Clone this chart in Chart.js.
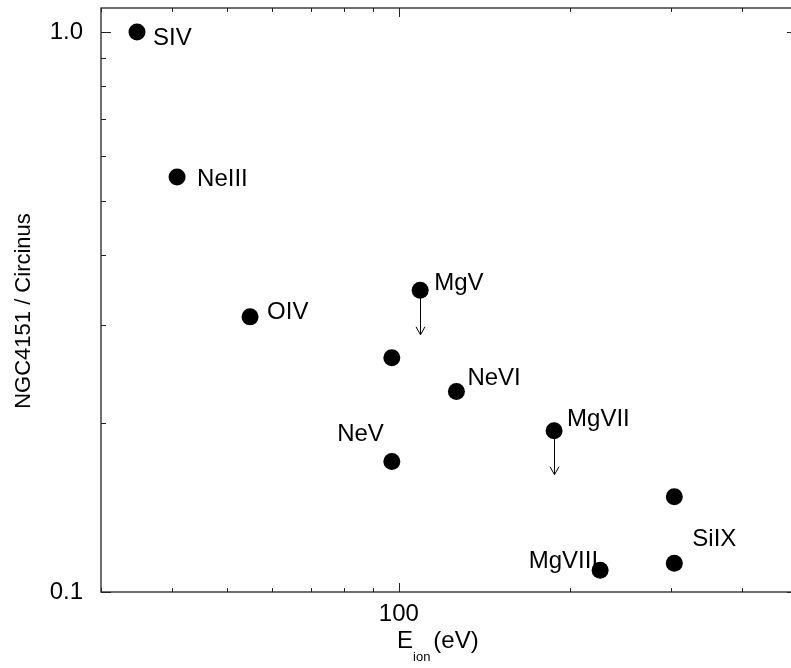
<!DOCTYPE html>
<html><head><meta charset="utf-8">
<script src="https://cdn.jsdelivr.net/npm/chart.js@4"></script>
<style>
html,body{margin:0;padding:0;background:#fff;overflow:hidden;width:791px;height:668px}
#wrap{position:absolute;left:0;top:0;width:800px;height:668px}
</style>
</head><body><div id="wrap"><canvas id="c" width="800" height="668"></canvas></div>
<script>
// ---- data ----
const ions        = ['SIV','NeIII','OIV','MgV','','NeVI','NeV','MgVII','','SiIX','MgVIII'];
const ionEnergy   = [34.7, 40.8, 54.8, 109.0, 97.2, 126.2, 97.2, 187.3, 304.5, 304.5, 225.6];
const fluxRatio   = [1.0, 0.551, 0.310, 0.346, 0.262, 0.228, 0.171, 0.194, 0.148, 0.1125, 0.1094];
const upperLimitTo= [null, null, null, 0.288, null, null, null, 0.162, null, null, null];
const xTickValues = [100];
const xTickLabels = ['100'];
const yTickValues = [0.1, 1.0];
const yTickLabels = ['0.1', '1.0'];
const xMinorTicks = [30, 40, 50, 60, 70, 80, 90, 200, 300, 400];
const yMinorTicks = [0.2, 0.3, 0.4, 0.5, 0.6, 0.7, 0.8, 0.9];
const yTitle = 'NGC4151 / Circinus';

// ---- label placement (pixel offsets from point, separate from data) ----
const labelPlacement = [
  [16, 13, 'left'], [20, 9, 'left'], [17, 2, 'left'], [14, 0, 'left'], null,
  [11, -7, 'left'], [-8, -21, 'right'], [13, -5, 'left'], null, [18, -17, 'left'], [-2, -2, 'right']
];

const FONT = "'Liberation Sans', Arial, Helvetica, sans-serif";

const decor = {
  id: 'decor',
  beforeDatasetsDraw(chart) {
    const {ctx, chartArea: a, scales: {x, y}} = chart;
    ctx.save();
    ctx.strokeStyle = '#222';
    ctx.lineWidth = 1.3;
    ctx.strokeRect(a.left, a.top, a.right - a.left, a.bottom - a.top);
    ctx.lineWidth = 1;
    ctx.beginPath();
    const xt = (v, len) => {
      const px = Math.round(x.getPixelForValue(v)) + 0.5;
      ctx.moveTo(px, a.bottom); ctx.lineTo(px, a.bottom - len);
      ctx.moveTo(px, a.top); ctx.lineTo(px, a.top + len);
    };
    const yt = (v, len) => {
      const py = Math.round(y.getPixelForValue(v)) + 0.5;
      ctx.moveTo(a.left, py); ctx.lineTo(a.left + len, py);
      ctx.moveTo(a.right, py); ctx.lineTo(a.right - len, py);
    };
    xTickValues.forEach(v => xt(v, 9));
    xMinorTicks.forEach(v => xt(v, 4));
    yTickValues.forEach(v => yt(v, 10));
    yMinorTicks.forEach(v => yt(v, 5));
    ctx.stroke();

    // point labels (drawn under markers)
    ctx.fillStyle = '#000';
    ctx.font = '24px ' + FONT;
    ctx.textBaseline = 'alphabetic';
    ions.forEach((t, i) => {
      const p = labelPlacement[i];
      if (!t || !p) return;
      const px = x.getPixelForValue(ionEnergy[i]);
      const py = y.getPixelForValue(fluxRatio[i]);
      ctx.textAlign = p[2];
      ctx.fillText(t, px + p[0], py + p[1]);
    });

    // upper-limit arrows
    ctx.strokeStyle = '#000';
    ctx.lineWidth = 1;
    upperLimitTo.forEach((v, i) => {
      if (v == null) return;
      const px = Math.round(x.getPixelForValue(ionEnergy[i])) + 0.5;
      const py0 = y.getPixelForValue(fluxRatio[i]);
      const py1 = y.getPixelForValue(v);
      ctx.beginPath();
      ctx.moveTo(px, py0); ctx.lineTo(px, py1);
      ctx.moveTo(px - 4.5, py1 - 8); ctx.lineTo(px, py1); ctx.lineTo(px + 4.5, py1 - 8);
      ctx.stroke();
    });

    // axis titles
    ctx.fillStyle = '#000';
    ctx.textAlign = 'left';
    ctx.font = '24px ' + FONT;
    let cx = 397;
    ctx.fillText('E', cx, 648);
    cx += ctx.measureText('E').width;
    ctx.font = '13px ' + FONT;
    ctx.fillText('ion', cx, 661);
    cx += ctx.measureText('ion').width + 3;
    ctx.font = '24px ' + FONT;
    ctx.fillText('(eV)', cx, 648);

    ctx.translate(24, 311);
    ctx.rotate(-Math.PI / 2);
    ctx.font = '22px ' + FONT;
    ctx.textAlign = 'center';
    ctx.textBaseline = 'middle';
    ctx.fillText(yTitle, 0, 0);
    ctx.restore();
  }
};

new Chart(document.getElementById('c').getContext('2d'), {
  type: 'scatter',
  data: {
    datasets: [{
      data: ionEnergy.map((e, i) => ({x: e, y: fluxRatio[i]})),
      backgroundColor: '#000',
      borderColor: '#000',
      borderWidth: 0,
      pointRadius: 8.5,
      pointHoverRadius: 8.5,
      clip: false
    }]
  },
  options: {
    responsive: false,
    animation: false,
    devicePixelRatio: 1,
    events: [],
    layout: {autoPadding: false, padding: {top: 8, right: 3, left: 0, bottom: 0}},
    plugins: {legend: {display: false}, tooltip: {enabled: false}},
    scales: {
      x: {
        type: 'logarithmic', min: 30, max: 500, position: 'bottom',
        grid: {display: false, drawTicks: false, tickLength: 0},
        border: {display: false},
        ticks: {
          font: {family: FONT, size: 24}, color: '#000', padding: 8,
          maxRotation: 0, autoSkip: false,
          callback: (v) => { const i = xTickValues.indexOf(v); return i >= 0 ? xTickLabels[i] : ''; }
        },
        afterBuildTicks: s => { s.ticks = xTickValues.map(v => ({value: v})); },
        afterFit: s => { s.height = 76; s.paddingLeft = 0; s.paddingRight = 0; }
      },
      y: {
        type: 'logarithmic', min: 0.1, max: 1.104, position: 'left',
        grid: {display: false, drawTicks: false, tickLength: 0},
        border: {display: false},
        ticks: {
          font: {family: FONT, size: 24}, color: '#000', padding: 18, autoSkip: false,
          callback: (v) => { const i = yTickValues.indexOf(v); return i >= 0 ? yTickLabels[i] : ''; }
        },
        afterBuildTicks: s => { s.ticks = yTickValues.map(v => ({value: v})); },
        afterFit: s => { s.width = 101; s.paddingTop = 0; s.paddingBottom = 0; }
      }
    }
  },
  plugins: [decor]
});
</script>
</body></html>
